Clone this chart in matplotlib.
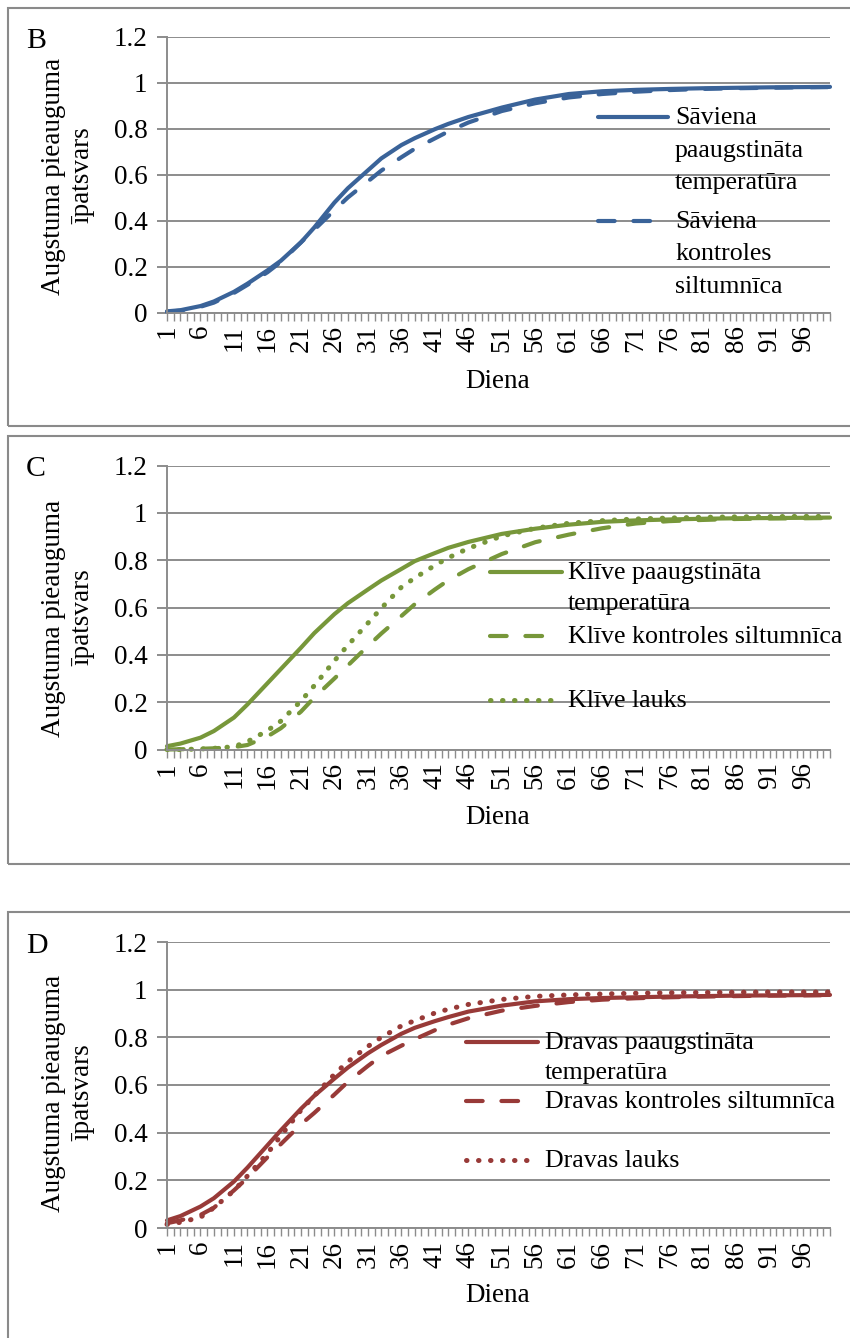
import matplotlib
matplotlib.use("Agg")
import matplotlib.pyplot as plt
from matplotlib.lines import Line2D
from matplotlib.patches import Rectangle

plt.rcParams["font.family"] = ["Liberation Serif", "DejaVu Serif"]

# day numbers the values were read at
days = [1, 3, 6, 8, 11, 13, 16, 18, 21, 23, 26, 28, 31, 33, 36, 38, 41, 43, 46,
        51, 56, 61, 66, 71, 76, 81, 86, 91, 96, 100]

# B - Sāviena
saviena_paaugst = [0.005, 0.01, 0.028, 0.048, 0.09, 0.125, 0.183, 0.225, 0.305, 0.37,
                   0.478, 0.54, 0.618, 0.67, 0.728, 0.758, 0.797, 0.82, 0.85,
                   0.891, 0.926, 0.95, 0.962, 0.968, 0.972, 0.975, 0.977, 0.979, 0.98, 0.981]
saviena_kontr = [0.003, 0.008, 0.025, 0.043, 0.085, 0.12, 0.175, 0.22, 0.305, 0.36,
                 0.445, 0.5, 0.57, 0.617, 0.675, 0.712, 0.757, 0.787, 0.826,
                 0.876, 0.91, 0.935, 0.95, 0.96, 0.967, 0.972, 0.975, 0.977, 0.979, 0.98]

# C - Klīve
klive_paaugst = [0.014, 0.025, 0.05, 0.078, 0.135, 0.19, 0.28, 0.34, 0.43, 0.492,
                 0.572, 0.618, 0.676, 0.714, 0.763, 0.796, 0.83, 0.852, 0.877,
                 0.911, 0.933, 0.95, 0.962, 0.968, 0.972, 0.975, 0.977, 0.978, 0.979, 0.98]
klive_kontr = [0.0, 0.001, 0.003, 0.005, 0.01, 0.019, 0.055, 0.09, 0.16, 0.22,
               0.3, 0.355, 0.437, 0.49, 0.564, 0.614, 0.676, 0.715, 0.762,
               0.826, 0.876, 0.908, 0.935, 0.955, 0.965, 0.97, 0.974, 0.976, 0.977, 0.978]
klive_lauks = [0.0, 0.0, 0.002, 0.005, 0.012, 0.033, 0.08, 0.12, 0.205, 0.27,
               0.375, 0.44, 0.534, 0.597, 0.686, 0.725, 0.778, 0.81, 0.85,
               0.902, 0.935, 0.956, 0.967, 0.974, 0.978, 0.981, 0.983, 0.984, 0.985, 0.985]

# D - Dravas
dravas_paaugst = [0.032, 0.05, 0.09, 0.125, 0.195, 0.253, 0.347, 0.41, 0.5, 0.555,
                  0.627, 0.673, 0.733, 0.768, 0.815, 0.84, 0.868, 0.885, 0.908,
                  0.933, 0.951, 0.96, 0.965, 0.968, 0.971, 0.973, 0.975, 0.976, 0.977, 0.978]
dravas_kontr = [0.02, 0.032, 0.055, 0.085, 0.158, 0.21, 0.297, 0.352, 0.435, 0.483,
                0.56, 0.613, 0.68, 0.722, 0.765, 0.792, 0.83, 0.853, 0.88,
                0.912, 0.932, 0.948, 0.958, 0.964, 0.968, 0.971, 0.973, 0.975, 0.976, 0.977]
dravas_lauks = [0.015, 0.024, 0.045, 0.085, 0.157, 0.218, 0.313, 0.387, 0.494, 0.555,
                0.645, 0.698, 0.762, 0.8, 0.848, 0.87, 0.902, 0.918, 0.938,
                0.959, 0.972, 0.978, 0.982, 0.985, 0.987, 0.988, 0.989, 0.99, 0.99, 0.99]

b_labels = ["Sāviena\npaaugstināta\ntemperatūra", "Sāviena\nkontroles\nsiltumnīca"]
c_labels = ["Klīve paaugstināta\ntemperatūra", "Klīve kontroles siltumnīca", "Klīve lauks"]
d_labels = ["Dravas paaugstināta\ntemperatūra", "Dravas kontroles siltumnīca", "Dravas lauks"]

yticks = [0, 0.2, 0.4, 0.6, 0.8, 1.0, 1.2]
ytick_labels = ["0", "0.2", "0.4", "0.6", "0.8", "1", "1.2"]

W, H = 850, 1338
FS = 19.5
LEG_FS = 18.6
GRID = "#8c8c8c"
LW = 3.0
STYLES = [dict(linestyle="-", lw=LW), dict(dashes=(4, 4.5), lw=LW),
          dict(dashes=(0.1, 2.3), lw=3.6)]
# dashed legend sample is cut a bit shorter so it ends on a gap
HANDLE_TRIM = [0, 5, 0]

fig = plt.figure(figsize=(W / 100, H / 100), dpi=100)


def fx(x):
    return x / W


def fy(y):
    return 1 - y / H


def panel(letter, frame, box, series, labels, color, leg, ylab_y, xlab_y):
    # frame around the chart
    top, bot = frame
    fig.add_artist(Rectangle((fx(8), fy(bot)), fx(880) - fx(8), fy(top) - fy(bot),
                             transform=fig.transFigure, fill=False,
                             edgecolor="#8a8a8a", lw=1.5))
    t, b = box
    ax = fig.add_axes([fx(167), fy(b), fx(830) - fx(167), (b - t) / H])
    ax.set_xlim(1, 100)
    ax.set_ylim(0, 1.2)
    ax.set_yticks(yticks)
    ax.set_yticklabels(ytick_labels)
    ax.set_xticks(range(1, 101, 5))
    ax.set_xticklabels([str(d) for d in range(1, 101, 5)], rotation=90)
    ax.set_xticks(range(1, 101), minor=True)
    ax.yaxis.grid(True, color=GRID, lw=1.4)
    ax.set_axisbelow(True)
    for s in ["top", "right"]:
        ax.spines[s].set_visible(False)
    for s in ["left", "bottom"]:
        ax.spines[s].set_color(GRID)
        ax.spines[s].set_linewidth(1.4)
    ax.tick_params(axis="y", length=7, width=1.4, color=GRID, labelsize=FS, pad=7)
    ax.tick_params(axis="x", which="both", length=6, width=1.0, color=GRID,
                   labelsize=FS, pad=3)

    for vals, st in zip(series, STYLES):
        ax.plot(days, vals, color=color, solid_capstyle="round",
                dash_capstyle="round", solid_joinstyle="round", clip_on=False, **st)

    # legend drawn by hand to follow the Excel layout
    hx0, hx1, tx, rows, step = leg
    for lab, st, trim, y0 in zip(labels, STYLES, HANDLE_TRIM, rows):
        fig.add_artist(Line2D([fx(hx0), fx(hx1 - trim)], [fy(y0), fy(y0)],
                              transform=fig.transFigure, color=color,
                              solid_capstyle="round", dash_capstyle="round", **st))
        for i, line in enumerate(lab.split("\n")):
            fig.text(fx(tx), fy(y0 + i * step + 7), line, fontsize=LEG_FS,
                     va="baseline", ha="left")

    fig.text(fx(68), fy(ylab_y), "Augstuma pieauguma\nīpatsvars", rotation=90,
             ha="center", va="center", multialignment="center", fontsize=FS, linespacing=1.25)
    fig.text(fx(498), fy(xlab_y), "Diena", ha="center", va="center", fontsize=FS)
    fig.text(fx(26), fy(t + 4), letter, ha="left", va="center", fontsize=FS + 2)
    return ax


panel("B", (8, 426), (36.5, 312.5), [saviena_paaugst, saviena_kontr], b_labels, "#3a6399",
      (598, 668, 675, [117, 221], 32.5), 176, 381)
panel("C", (436, 864), (465.5, 749.5), [klive_paaugst, klive_kontr, klive_lauks], c_labels,
      "#77973a", (490, 562, 568, [572, 636, 700], 31), 618, 818)
panel("D", (912, 1400), (942, 1228), [dravas_paaugst, dravas_kontr, dravas_lauks], d_labels,
      "#983a38", (466, 538, 545, [1042, 1101, 1160], 30), 1093, 1295)

fig.savefig("out.png", dpi=100, facecolor="white")
